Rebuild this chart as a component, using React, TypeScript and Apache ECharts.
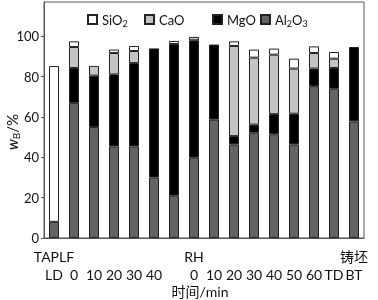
import React, { useEffect, useRef } from "react";
import * as echarts from "echarts";

const categories = ["LD", "0", "10", "20", "30", "40", "", "0", "10", "20", "30", "40", "50", "60", "TD", "BT"];
const groupLabels = ["TAPLF", "", "", "", "", "", "", "RH", "", "", "", "", "", "", "", "铸坯"];
const seriesNames = ["SiO2", "CaO", "MgO", "Al2O3"];
const al2o3 = [8, 67, 55, 45.4, 45.4, 30, 21, 39.8, 58.7, 46.4, 52.2, 51.4, 46.4, 75.3, 74, 57.8];
const mgo = [0, 17.3, 25.5, 35.7, 41.3, 64, 75.2, 58.2, 37.2, 4.1, 4, 10, 15.2, 8.7, 10.3, 36.9];
const cao = [0, 10.4, 4.8, 10.6, 6, 0, 0, 1.7, 0, 44.7, 33.2, 29.5, 22.4, 7.7, 4.6, 0];
const sio2 = [77.3, 2.8, 0, 1.7, 2.5, 0, 1.5, 0, 0, 2.3, 4, 3, 4.9, 3.3, 3.3, 0];
const yTickValues = [0, 20, 40, 60, 80, 100];

const FONT = 'Lato, "Noto Sans CJK SC", sans-serif';
const TEXT = "#111";
const LINE = "#555";
const colors: Record<string, string> = {
  SiO2: "#ffffff",
  CaO: "#c4c4c4",
  MgO: "#000000",
  Al2O3: "#646464",
};
const values: Record<string, number[]> = { SiO2: sio2, CaO: cao, MgO: mgo, Al2O3: al2o3 };
const legendLeft = [87, 144, 212, 260];

const chem = (name: string) =>
  ("{n|" + name.replace(/(\d+)/g, "}{s|$1}{n|") + "}").replace(/\{n\|\}/g, "");

export default function App() {
  const ref = useRef<HTMLDivElement>(null);
  useEffect(() => {
    if (!ref.current) return;
    const chart = echarts.init(ref.current, null, { renderer: "svg" });
    const legendRich = {
      n: { fontSize: 13, fontFamily: FONT, color: TEXT },
      s: { fontSize: 9, fontFamily: FONT, color: TEXT, padding: [8, 0, 0, 0] },
    };
    const stackOrder = ["Al2O3", "MgO", "CaO", "SiO2"];
    chart.setOption({
      animation: false,
      textStyle: { fontFamily: FONT },
      grid: {
        left: 44,
        right: 14,
        top: 2,
        bottom: 62,
        containLabel: false,
        outerBoundsMode: "none",
        show: true,
        borderColor: LINE,
        borderWidth: 1,
      },
      legend: seriesNames.map((name, i) => ({
        data: [name],
        left: legendLeft[i],
        top: 13,
        padding: 0,
        itemWidth: 9,
        itemHeight: 9,
        icon: "rect",
        formatter: (n: string) => chem(n),
        textStyle: { rich: legendRich },
      })),
      xAxis: [
        {
          type: "category",
          data: categories,
          position: "bottom",
          axisLine: { show: true, lineStyle: { color: LINE } },
          axisTick: { show: false },
          axisLabel: { interval: 0, margin: 29, fontSize: 14, color: TEXT, fontFamily: FONT },
          name: "时间/min",
          nameLocation: "middle",
          nameGap: 46,
          nameMoveOverlap: false,
          nameTextStyle: {
            fontSize: 14,
            lineHeight: 14,
            color: TEXT,
            fontFamily: FONT,
            padding: [0, 8, 0, 0],
          },
        },
        {
          type: "category",
          data: groupLabels,
          position: "bottom",
          axisLine: { show: false },
          axisTick: { show: false },
          axisLabel: { interval: 0, margin: 11, fontSize: 14, color: TEXT, fontFamily: FONT },
        },
      ],
      yAxis: {
        type: "value",
        min: 0,
        max: 117,
        interval: 20,
        splitLine: { show: false },
        axisLine: { show: true, lineStyle: { color: LINE } },
        axisTick: { show: true, length: 3, lineStyle: { color: LINE } },
        axisLabel: {
          fontSize: 13,
          color: TEXT,
          margin: 5,
          showMaxLabel: false,
          formatter: (v: number) => (yTickValues.includes(v) ? String(v) : ""),
        },
        name: "{i|w}{b|B}{p|/%}",
        nameLocation: "middle",
        nameGap: 23,
        nameMoveOverlap: false,
        nameTextStyle: {
          padding: [0, 24, 0, 0],
          rich: {
            i: { fontSize: 15, fontStyle: "italic", fontFamily: FONT, color: TEXT },
            b: { fontSize: 10, fontFamily: FONT, color: TEXT, padding: [8, 0, 0, 0] },
            p: { fontSize: 15, fontFamily: FONT, color: TEXT },
          },
        },
      },
      series: stackOrder.map((name) => ({
        name,
        type: "bar",
        stack: "total",
        barWidth: 10,
        xAxisIndex: 0,
        data: values[name].map((v) => (v > 0 ? v : null)),
        itemStyle: { color: colors[name], borderColor: "#222", borderWidth: 1 },
      })),
    });
    return () => chart.dispose();
  }, []);
  return (
    <div
      ref={ref}
      style={{ position: "fixed", left: 0, top: 0, width: 378, height: 300 }}
    />
  );
}
